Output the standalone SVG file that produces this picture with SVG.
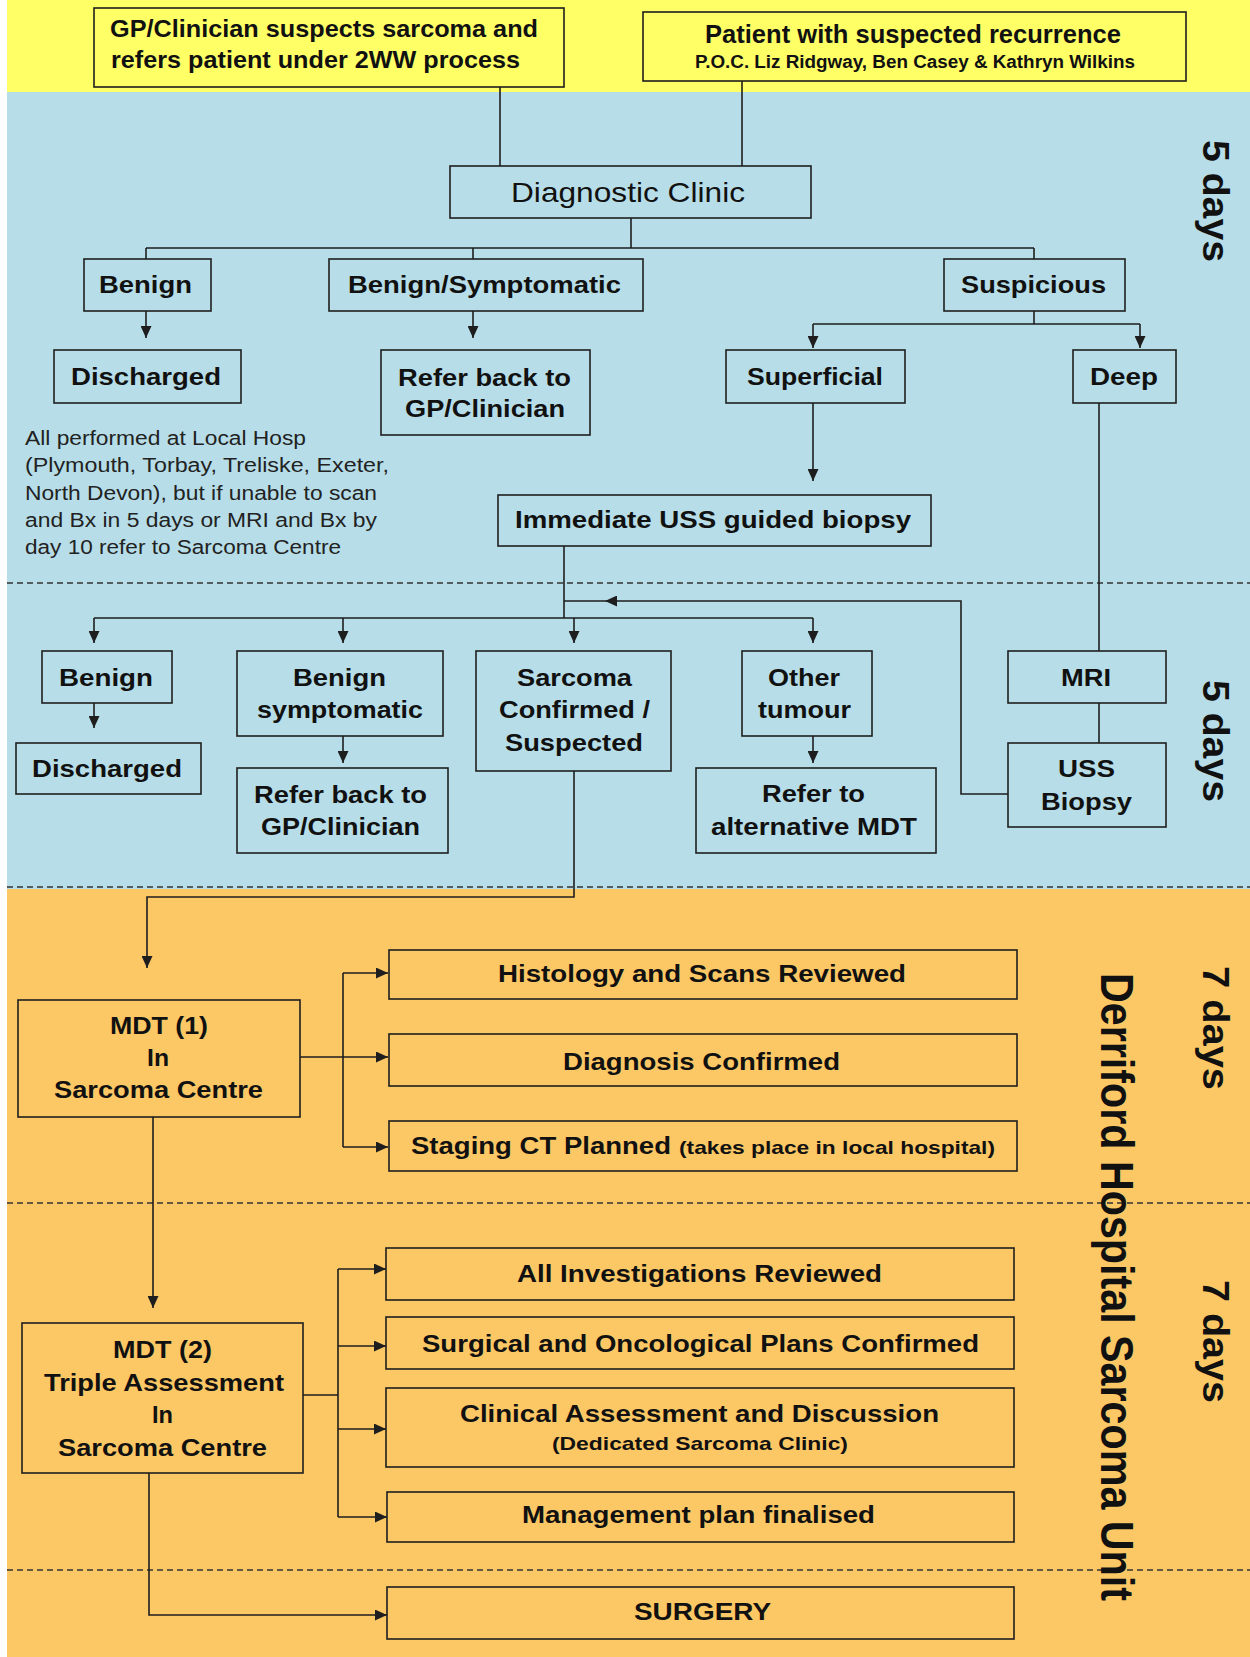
<svg xmlns="http://www.w3.org/2000/svg" width="1250" height="1657" viewBox="0 0 1250 1657">
<style>
.box{fill:none;stroke:#1e1e1e;stroke-width:1.6}
.t{font-family:"Liberation Sans",Arial,sans-serif;font-weight:bold;font-size:24px;fill:#111}
.n{font-weight:normal}
.s{font-size:19px}
.c{fill:none;stroke:#1e1e1e;stroke-width:1.6}
.a{marker-end:url(#ah)}
.dash{stroke:#333;stroke-width:1.5;stroke-dasharray:6 4}
</style>
<defs>
<marker id="ah" markerUnits="userSpaceOnUse" markerWidth="12" markerHeight="11" refX="12" refY="5.5" orient="auto" viewBox="0 0 12 11"><path d="M0,0 L12,5.5 L0,11 z" fill="#1e1e1e"/></marker>
</defs>
<g id="background">
<rect x="0" y="0" width="1250" height="1657" fill="#ffffff"/>
<rect x="7" y="0" width="1243" height="92" fill="#FFFF66"/>
<rect x="7" y="92" width="1243" height="797" fill="#B7DEE8"/>
<rect x="7" y="889" width="1243" height="768" fill="#FCC865"/>
<line class="dash" x1="7" y1="583" x2="1250" y2="583"/>
<line class="dash" x1="7" y1="887" x2="1250" y2="887"/>
<line class="dash" x1="7" y1="1203" x2="1250" y2="1203"/>
<line class="dash" x1="7" y1="1570" x2="1250" y2="1570"/>
</g>
<g id="connectors">
<path class="c" d="M500,87 V166"/>
<path class="c" d="M742,81 V166"/>
<path class="c" d="M631,218 V248 M146,248 H1034 M146,248 V259 M473,248 V259 M1034,248 V259"/>
<path class="c a" d="M146,311 V338"/>
<path class="c a" d="M473,311 V338"/>
<path class="c" d="M1034,311 V324 M813,324 H1140"/>
<path class="c a" d="M813,324 V348"/>
<path class="c a" d="M1140,324 V348"/>
<path class="c a" d="M813,403 V481"/>
<path class="c" d="M1099,403 V651 M1099,703 V743"/>
<path class="c" d="M564,546 V618 M94,618 H813 M564,601 H605"/>
<path class="c a" d="M94,618 V643"/>
<path class="c a" d="M343,618 V643"/>
<path class="c a" d="M574,618 V643"/>
<path class="c a" d="M813,618 V643"/>
<path class="c a" d="M1008,794 H961 V601 H605"/>
<path class="c a" d="M94,703 V728"/>
<path class="c a" d="M343,736 V763"/>
<path class="c a" d="M813,736 V763"/>
<path class="c a" d="M574,771 V897 H147 V968"/>
<path class="c a" d="M300,1057 H388"/>
<path class="c" d="M343,973 V1147"/>
<path class="c a" d="M343,973 H388"/>
<path class="c a" d="M343,1147 H388"/>
<path class="c a" d="M153,1117 V1308"/>
<path class="c" d="M303,1395 H338 M338,1269 V1517"/>
<path class="c a" d="M338,1269 H386"/>
<path class="c a" d="M338,1346 H386"/>
<path class="c a" d="M338,1429 H386"/>
<path class="c a" d="M338,1517 H387"/>
<path class="c a" d="M149,1473 V1615 H387"/>
</g>
<g id="gp">
<rect class="box" x="94" y="8" width="470" height="79"/>
<text class="t" font-size="23" x="110" y="37" textLength="428" lengthAdjust="spacingAndGlyphs">GP/Clinician suspects sarcoma and</text>
<text class="t" font-size="23" x="111" y="68" textLength="409" lengthAdjust="spacingAndGlyphs">refers patient under 2WW process</text>
</g>
<g id="patient">
<rect class="box" x="643" y="12" width="543" height="69"/>
<text class="t" style="font-size:25px" x="705" y="43" textLength="416" lengthAdjust="spacingAndGlyphs">Patient with suspected recurrence</text>
<text class="t" style="font-size:18px" x="695" y="68" textLength="440" lengthAdjust="spacingAndGlyphs">P.O.C. Liz Ridgway, Ben Casey &amp; Kathryn Wilkins</text>
</g>
<g id="diagnostic">
<rect class="box" x="450" y="166" width="361" height="52"/>
<text class="t n" style="font-size:28px" x="511" y="202" textLength="234" lengthAdjust="spacingAndGlyphs">Diagnostic Clinic</text>
</g>
<g id="benign1">
<rect class="box" x="84" y="259" width="127" height="52"/>
<text class="t" x="99" y="293" textLength="93" lengthAdjust="spacingAndGlyphs">Benign</text>
</g>
<g id="benignsymp1">
<rect class="box" x="329" y="259" width="314" height="52"/>
<text class="t" x="348" y="293" textLength="273" lengthAdjust="spacingAndGlyphs">Benign/Symptomatic</text>
</g>
<g id="suspicious">
<rect class="box" x="944" y="259" width="181" height="52"/>
<text class="t" x="961" y="293" textLength="145" lengthAdjust="spacingAndGlyphs">Suspicious</text>
</g>
<g id="discharged1">
<rect class="box" x="54" y="350" width="187" height="53"/>
<text class="t" x="71" y="385" textLength="150" lengthAdjust="spacingAndGlyphs">Discharged</text>
</g>
<g id="referback1">
<rect class="box" x="381" y="350" width="209" height="85"/>
<text class="t" x="398" y="386" textLength="173" lengthAdjust="spacingAndGlyphs">Refer back to</text>
<text class="t" x="405" y="417" textLength="160" lengthAdjust="spacingAndGlyphs">GP/Clinician</text>
</g>
<g id="superficial">
<rect class="box" x="726" y="350" width="179" height="53"/>
<text class="t" x="747" y="385" textLength="136" lengthAdjust="spacingAndGlyphs">Superficial</text>
</g>
<g id="deep">
<rect class="box" x="1073" y="350" width="103" height="53"/>
<text class="t" x="1090" y="385" textLength="68" lengthAdjust="spacingAndGlyphs">Deep</text>
</g>
<g id="note">
<text class="t n" style="font-size:20px;fill:#222" x="25" y="445" textLength="281" lengthAdjust="spacingAndGlyphs">All performed  at Local Hosp</text>
<text class="t n" style="font-size:20px;fill:#222" x="25" y="472" textLength="364" lengthAdjust="spacingAndGlyphs">(Plymouth, Torbay, Treliske, Exeter,</text>
<text class="t n" style="font-size:20px;fill:#222" x="25" y="500" textLength="352" lengthAdjust="spacingAndGlyphs">North Devon),  but if unable to scan</text>
<text class="t n" style="font-size:20px;fill:#222" x="25" y="527" textLength="352" lengthAdjust="spacingAndGlyphs">and Bx in 5 days or MRI and Bx by</text>
<text class="t n" style="font-size:20px;fill:#222" x="25" y="554" textLength="316" lengthAdjust="spacingAndGlyphs">day 10 refer to Sarcoma Centre</text>
</g>
<g id="immediate">
<rect class="box" x="498" y="495" width="433" height="51"/>
<text class="t" x="515" y="528" textLength="396" lengthAdjust="spacingAndGlyphs">Immediate USS guided biopsy</text>
</g>
<g id="benign2">
<rect class="box" x="42" y="651" width="130" height="52"/>
<text class="t" x="59" y="686" textLength="94" lengthAdjust="spacingAndGlyphs">Benign</text>
</g>
<g id="discharged2">
<rect class="box" x="16" y="743" width="185" height="51"/>
<text class="t" x="32" y="777" textLength="150" lengthAdjust="spacingAndGlyphs">Discharged</text>
</g>
<g id="benignsymp2">
<rect class="box" x="237" y="651" width="206" height="85"/>
<text class="t" x="293" y="686" textLength="93" lengthAdjust="spacingAndGlyphs">Benign</text>
<text class="t" x="257" y="718" textLength="166" lengthAdjust="spacingAndGlyphs">symptomatic</text>
</g>
<g id="referback2">
<rect class="box" x="237" y="768" width="211" height="85"/>
<text class="t" x="254" y="803" textLength="173" lengthAdjust="spacingAndGlyphs">Refer back to</text>
<text class="t" x="261" y="835" textLength="159" lengthAdjust="spacingAndGlyphs">GP/Clinician</text>
</g>
<g id="sarcoma">
<rect class="box" x="476" y="651" width="195" height="120"/>
<text class="t" x="517" y="686" textLength="115" lengthAdjust="spacingAndGlyphs">Sarcoma</text>
<text class="t" x="499" y="718" textLength="151" lengthAdjust="spacingAndGlyphs">Confirmed /</text>
<text class="t" x="505" y="751" textLength="138" lengthAdjust="spacingAndGlyphs">Suspected</text>
</g>
<g id="other">
<rect class="box" x="742" y="651" width="130" height="85"/>
<text class="t" x="768" y="686" textLength="72" lengthAdjust="spacingAndGlyphs">Other</text>
<text class="t" x="758" y="718" textLength="93" lengthAdjust="spacingAndGlyphs">tumour</text>
</g>
<g id="referalt">
<rect class="box" x="696" y="768" width="240" height="85"/>
<text class="t" x="762" y="802" textLength="103" lengthAdjust="spacingAndGlyphs">Refer to</text>
<text class="t" x="711" y="835" textLength="206" lengthAdjust="spacingAndGlyphs">alternative MDT</text>
</g>
<g id="mri">
<rect class="box" x="1008" y="651" width="158" height="52"/>
<text class="t" x="1061" y="686" textLength="50" lengthAdjust="spacingAndGlyphs">MRI</text>
</g>
<g id="ussbiopsy">
<rect class="box" x="1008" y="743" width="158" height="84"/>
<text class="t" x="1058" y="777" textLength="57" lengthAdjust="spacingAndGlyphs">USS</text>
<text class="t" x="1041" y="810" textLength="91" lengthAdjust="spacingAndGlyphs">Biopsy</text>
</g>
<g id="mdt1">
<rect class="box" x="18" y="1000" width="282" height="117"/>
<text class="t" x="110" y="1034" textLength="98" lengthAdjust="spacingAndGlyphs">MDT (1)</text>
<text class="t" x="147" y="1066" textLength="22" lengthAdjust="spacingAndGlyphs">In</text>
<text class="t" x="54" y="1098" textLength="209" lengthAdjust="spacingAndGlyphs">Sarcoma Centre</text>
</g>
<g id="histology">
<rect class="box" x="389" y="950" width="628" height="49"/>
<text class="t" x="498" y="982" textLength="408" lengthAdjust="spacingAndGlyphs">Histology and Scans Reviewed</text>
</g>
<g id="diagnosis">
<rect class="box" x="389" y="1034" width="628" height="52"/>
<text class="t" x="563" y="1070" textLength="277" lengthAdjust="spacingAndGlyphs">Diagnosis Confirmed</text>
</g>
<g id="staging">
<rect class="box" x="389" y="1121" width="628" height="50"/>
<text class="t" x="411" y="1154" textLength="260" lengthAdjust="spacingAndGlyphs">Staging CT Planned</text>
<text class="t s" x="679" y="1154" textLength="316" lengthAdjust="spacingAndGlyphs">(takes place in local hospital)</text>
</g>
<g id="mdt2">
<rect class="box" x="22" y="1323" width="281" height="150"/>
<text class="t" x="113" y="1358" textLength="99" lengthAdjust="spacingAndGlyphs">MDT (2)</text>
<text class="t" x="44" y="1391" textLength="240" lengthAdjust="spacingAndGlyphs">Triple Assessment</text>
<text class="t" x="152" y="1423" textLength="21" lengthAdjust="spacingAndGlyphs">In</text>
<text class="t" x="58" y="1456" textLength="209" lengthAdjust="spacingAndGlyphs">Sarcoma Centre</text>
</g>
<g id="allinvestigations">
<rect class="box" x="386" y="1248" width="628" height="52"/>
<text class="t" x="517" y="1282" textLength="365" lengthAdjust="spacingAndGlyphs">All Investigations Reviewed</text>
</g>
<g id="surgicalplans">
<rect class="box" x="386" y="1317" width="628" height="52"/>
<text class="t" x="422" y="1352" textLength="557" lengthAdjust="spacingAndGlyphs">Surgical and Oncological Plans Confirmed</text>
</g>
<g id="clinical">
<rect class="box" x="386" y="1388" width="628" height="79"/>
<text class="t" x="460" y="1422" textLength="479" lengthAdjust="spacingAndGlyphs">Clinical Assessment and Discussion</text>
<text class="t s" x="552" y="1450" textLength="296" lengthAdjust="spacingAndGlyphs">(Dedicated Sarcoma Clinic)</text>
</g>
<g id="management">
<rect class="box" x="387" y="1492" width="627" height="50"/>
<text class="t" x="522" y="1523" textLength="353" lengthAdjust="spacingAndGlyphs">Management plan finalised</text>
</g>
<g id="surgery">
<rect class="box" x="387" y="1587" width="627" height="52"/>
<text class="t" x="634" y="1620" textLength="137" lengthAdjust="spacingAndGlyphs">SURGERY</text>
</g>
<g id="labels">
<text class="t" style="font-size:36px" transform="translate(1203,140) rotate(90)" x="0" y="0" textLength="122" lengthAdjust="spacingAndGlyphs">5 days</text>
<text class="t" style="font-size:36px" transform="translate(1203,680) rotate(90)" x="0" y="0" textLength="122" lengthAdjust="spacingAndGlyphs">5 days</text>
<text class="t" style="font-size:36px" transform="translate(1203,966) rotate(90)" x="0" y="0" textLength="124" lengthAdjust="spacingAndGlyphs">7 days</text>
<text class="t" style="font-size:36px" transform="translate(1203,1280) rotate(90)" x="0" y="0" textLength="123" lengthAdjust="spacingAndGlyphs">7 days</text>
<text class="t" style="font-size:47px" transform="translate(1101,973) rotate(90)" x="0" y="0" textLength="628" lengthAdjust="spacingAndGlyphs">Derriford Hospital Sarcoma Unit</text>
</g>
</svg>
